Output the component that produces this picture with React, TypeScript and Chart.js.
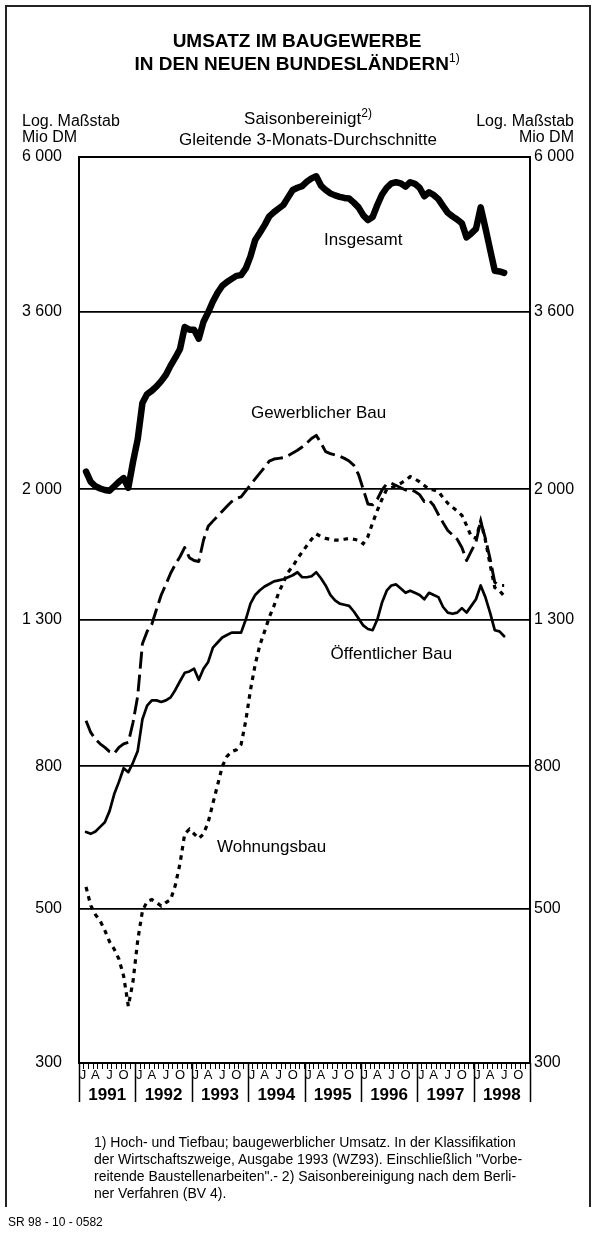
import React, { useEffect, useRef } from "react";
import { Chart, registerables } from "chart.js";

Chart.register(...registerables);

// ---- Data (monthly, 3-month moving averages, Mio DM) ----
// first value = Feb 1991 (month index 1, counting from Jan 1991 = 0), last = Jul 1998
const firstMonthIndex = 1;
const years = ["1991", "1992", "1993", "1994", "1995", "1996", "1997", "1998"];
const quarterLetters = ["J", "A", "J", "O"];
const yTickValues = [300, 500, 800, 1300, 2000, 3600, 6000];

const insgesamt = [
  2120, 2050, 2020, 2005, 1995, 1990, 2020, 2050, 2075, 2010,
  2190, 2360, 2660, 2740, 2770, 2810, 2860, 2920, 3010, 3090,
  3180, 3420, 3390, 3390, 3290, 3480, 3590, 3720, 3830, 3920,
  3970, 4010, 4050, 4060, 4150, 4320, 4560, 4670, 4790, 4930,
  5000, 5060, 5120, 5250, 5380, 5420, 5450, 5530, 5590, 5630,
  5460, 5380, 5320, 5285, 5260, 5240, 5230, 5160, 5080, 4950,
  4870, 4920, 5120, 5300, 5420, 5500, 5520, 5500, 5440, 5520,
  5490, 5420, 5270, 5340, 5290, 5220, 5100, 4990, 4930, 4880,
  4820, 4600, 4660, 4730, 5080, 4750, 4420, 4120, 4110, 4090,
];

const gewerblicherBau = [
  930, 895, 875, 862, 852, 840, 835, 852, 862, 866,
  925, 1010, 1200, 1250, 1280, 1345, 1410, 1460, 1515, 1560,
  1600, 1650, 1595, 1580, 1575, 1690, 1770, 1800, 1830, 1860,
  1890, 1920, 1940, 1950, 1990, 2030, 2070, 2110, 2150, 2195,
  2210, 2215, 2220, 2235, 2255, 2275, 2300, 2330, 2365, 2390,
  2330, 2265, 2250, 2240, 2230, 2215, 2195, 2165, 2100, 2000,
  1905, 1900, 1935, 1995, 2035, 2040, 2025, 2010, 1995, 2000,
  1985, 1965, 1920, 1930, 1895, 1840, 1790, 1745, 1720, 1695,
  1650, 1580, 1630, 1680, 1800, 1700, 1590, 1470, 1455, 1455,
];

const oeffentlicherBau = [
  644, 640, 645, 655, 665, 690, 730, 760, 795, 785,
  810, 842, 935, 978, 995, 995, 990, 995, 1005, 1030,
  1060, 1090, 1095, 1105, 1065, 1105, 1130, 1185, 1205, 1225,
  1235, 1245, 1245, 1245, 1300, 1370, 1410, 1432, 1450, 1462,
  1475, 1480, 1485, 1495, 1505, 1520, 1495, 1495, 1500, 1520,
  1490, 1455, 1410, 1385, 1370, 1365, 1360, 1335, 1305, 1275,
  1260, 1255, 1300, 1375, 1430, 1455, 1460, 1440, 1420, 1430,
  1420, 1410, 1390, 1420, 1410, 1400, 1355, 1330, 1325, 1330,
  1350, 1330, 1360, 1390, 1455, 1400, 1330, 1255, 1250, 1230,
];

const wohnungsbau = [
  537, 505, 490, 480, 465, 448, 437, 423, 400, 362,
  393, 450, 496, 512, 515, 510, 504, 510, 515, 540,
  580, 640, 650, 640, 630, 640, 665, 708, 752, 800,
  827, 840, 845, 860, 930, 1030, 1120, 1195, 1250, 1310,
  1360, 1420, 1470, 1520, 1550, 1590, 1625, 1660, 1695, 1725,
  1710, 1700, 1695, 1690, 1690, 1695, 1700, 1695, 1690, 1670,
  1710, 1790, 1865, 1935, 2000, 2010, 2025, 2040, 2060, 2085,
  2070, 2050, 2025, 2000, 1995, 1985, 1945, 1910, 1885, 1860,
  1835, 1775, 1710, 1700, 1800, 1690, 1560, 1445, 1430, 1405,
];

// series captions and where they sit (month index, value)
const seriesNames = ["Insgesamt", "Gewerblicher Bau", "Öffentlicher Bau", "Wohnungsbau"];
const captionMonth = [60.5, 51.0, 66.5, 41.0];
const captionValue = [4550, 2570, 1160, 612];

const FONT = '"Liberation Sans", Arial, Helvetica, sans-serif';

const toPoints = (arr: number[]) =>
  arr.map((v, k) => ({ x: firstMonthIndex + k + 0.5, y: v }));

const fmtTick = (v: number) =>
  v >= 1000 ? `${Math.floor(v / 1000)} ${String(v % 1000).padStart(3, "0")}` : String(v);

const PLOT_LEFT = 79;
const PLOT_RIGHT = 530;
const PLOT_TOP = 157;
const PLOT_BOTTOM = 1063;
const W = 594;
const H = 1238;

const decorPlugin = {
  id: "decor",
  afterDraw(chart: any) {
    const { ctx, chartArea: ca, scales } = chart;
    const xs = scales.x;
    const ys = scales.y;
    ctx.save();
    ctx.strokeStyle = "#000";
    ctx.lineWidth = 2;
    ctx.strokeRect(ca.left, ca.top, ca.right - ca.left, ca.bottom - ca.top);

    // year separators
    ctx.lineWidth = 1.5;
    for (let k = 0; k <= years.length; k++) {
      const x = Math.round(xs.getPixelForValue(k * 12)) + 0.5;
      ctx.beginPath();
      ctx.moveTo(x, ca.bottom);
      ctx.lineTo(x, ca.bottom + 39);
      ctx.stroke();
    }

    ctx.fillStyle = "#000";
    ctx.textAlign = "center";
    ctx.textBaseline = "middle";
    years.forEach((yr, k) => {
      ctx.font = `13px ${FONT}`;
      quarterLetters.forEach((L, q) => {
        const m = k * 12 + q * 3 + (q === 0 ? 0.85 : 0.5);
        ctx.fillText(L, xs.getPixelForValue(m), ca.bottom + 12);
      });
      ctx.font = `bold 17px ${FONT}`;
      ctx.fillText(yr, xs.getPixelForValue(k * 12 + 6), ca.bottom + 32);
    });

    ctx.font = `17px ${FONT}`;
    seriesNames.forEach((name, i) => {
      ctx.fillText(name, xs.getPixelForValue(captionMonth[i]), ys.getPixelForValue(captionValue[i]));
    });
    ctx.restore();
  },
};

export default function App() {
  const ref = useRef<HTMLCanvasElement | null>(null);

  useEffect(() => {
    if (!ref.current) return;
    const yAxisCommon = {
      type: "logarithmic" as const,
      min: 300,
      max: 6000,
      afterBuildTicks: (s: any) => {
        s.ticks = yTickValues.map((v) => ({ value: v }));
      },
    };
    const chart = new Chart(ref.current, {
      type: "line",
      data: {
        datasets: [
          {
            label: seriesNames[0],
            data: toPoints(insgesamt),
            borderColor: "#000",
            borderWidth: 6.5,
            borderCapStyle: "round",
            borderJoinStyle: "round",
            pointRadius: 0,
            tension: 0,
          },
          {
            label: seriesNames[1],
            data: toPoints(gewerblicherBau),
            borderColor: "#000",
            borderWidth: 2.9,
            borderDash: [17, 6],
            borderCapStyle: "butt",
            borderJoinStyle: "round",
            pointRadius: 0,
            tension: 0,
          },
          {
            label: seriesNames[2],
            data: toPoints(oeffentlicherBau),
            borderColor: "#000",
            borderWidth: 2.7,
            borderJoinStyle: "round",
            borderCapStyle: "round",
            pointRadius: 0,
            tension: 0,
          },
          {
            label: seriesNames[3],
            data: toPoints(wohnungsbau),
            borderColor: "#000",
            borderWidth: 3.2,
            borderDash: [4.5, 5],
            borderCapStyle: "butt",
            pointRadius: 0,
            tension: 0,
          },
        ],
      },
      options: {
        animation: false,
        responsive: false,
        devicePixelRatio: 1,
        layout: { padding: { top: PLOT_TOP, left: 0, right: 0, bottom: 0 } },
        plugins: {
          legend: { display: false },
          tooltip: { enabled: false },
          title: { display: false },
        },
        scales: {
          x: {
            type: "linear",
            min: 0,
            max: years.length * 12,
            afterBuildTicks: (s: any) => {
              const t: { value: number }[] = [];
              for (let m = 0; m <= years.length * 12; m++) t.push({ value: m });
              s.ticks = t;
            },
            ticks: { display: false },
            grid: {
              drawOnChartArea: false,
              drawTicks: true,
              tickLength: 6,
              color: "#000",
              lineWidth: 1,
            },
            border: { display: true, color: "#000", width: 2 },
            afterFit: (s: any) => {
              s.height = H - PLOT_BOTTOM;
            },
          },
          y: {
            ...yAxisCommon,
            position: "left",
            ticks: {
              autoSkip: false,
              padding: 17,
              color: "#000",
              font: { family: FONT, size: 16 },
              callback: (v: any) => fmtTick(Number(v)),
            },
            grid: { color: "#000", lineWidth: 1.8, drawTicks: false },
            border: { display: true, color: "#000", width: 2 },
            afterFit: (s: any) => {
              s.width = PLOT_LEFT;
            },
          },
          y2: {
            ...yAxisCommon,
            position: "right",
            ticks: {
              autoSkip: false,
              padding: 4,
              color: "#000",
              font: { family: FONT, size: 16 },
              callback: (v: any) => fmtTick(Number(v)),
            },
            grid: { display: false, drawTicks: false },
            border: { display: true, color: "#000", width: 2 },
            afterFit: (s: any) => {
              s.width = W - PLOT_RIGHT;
            },
          },
        },
      } as any,
      plugins: [decorPlugin],
    });
    return () => chart.destroy();
  }, []);

  const abs = { position: "absolute" as const };
  return (
    <div
      style={{
        position: "absolute",
        left: 0,
        top: 0,
        width: W,
        height: H,
        background: "#fff",
        fontFamily: FONT,
        color: "#000",
        overflow: "hidden",
      }}
    >
      <div
        style={{
          ...abs,
          left: 5,
          top: 5,
          width: 582,
          height: 1200,
          borderLeft: "2px solid #222",
          borderTop: "2px solid #222",
          borderRight: "2px solid #222",
        }}
      />
      <canvas ref={ref} width={W} height={H} style={{ ...abs, left: 0, top: 0, width: W, height: H }} />
      <div
        style={{
          ...abs,
          left: 0,
          width: W,
          top: 29,
          textAlign: "center",
          fontWeight: "bold",
          fontSize: 19,
          lineHeight: "23px",
        }}
      >
        UMSATZ IM BAUGEWERBE
        <br />
        IN DEN NEUEN BUNDESLÄNDERN
        <span style={{ fontSize: 12, fontWeight: "normal", position: "relative", top: -8 }}>1)</span>
      </div>
      <div style={{ ...abs, left: 22, top: 113, fontSize: 16, lineHeight: "16px" }}>
        Log. Maßstab
        <br />
        Mio DM
      </div>
      <div style={{ ...abs, right: 20, top: 113, fontSize: 16, lineHeight: "16px", textAlign: "right" }}>
        Log. Maßstab
        <br />
        Mio DM
      </div>
      <div
        style={{
          ...abs,
          left: 158,
          width: 300,
          top: 109,
          fontSize: 17,
          lineHeight: "20px",
          textAlign: "center",
        }}
      >
        Saisonbereinigt
        <span style={{ fontSize: 12, position: "relative", top: -7 }}>2)</span>
        <br />
        Gleitende 3-Monats-Durchschnitte
      </div>
      <div style={{ ...abs, left: 94, top: 1134, fontSize: 14, lineHeight: "17px", whiteSpace: "nowrap" }}>
        1) Hoch- und Tiefbau; baugewerblicher Umsatz. In der Klassifikation
        <br />
        der Wirtschaftszweige, Ausgabe 1993 (WZ93). Einschließlich "Vorbe-
        <br />
        reitende Baustellenarbeiten".- 2) Saisonbereinigung nach dem Berli-
        <br />
        ner Verfahren (BV 4).
      </div>
      <div style={{ ...abs, left: 8, top: 1215, fontSize: 12, lineHeight: "14px" }}>SR 98 - 10 - 0582</div>
    </div>
  );
}
